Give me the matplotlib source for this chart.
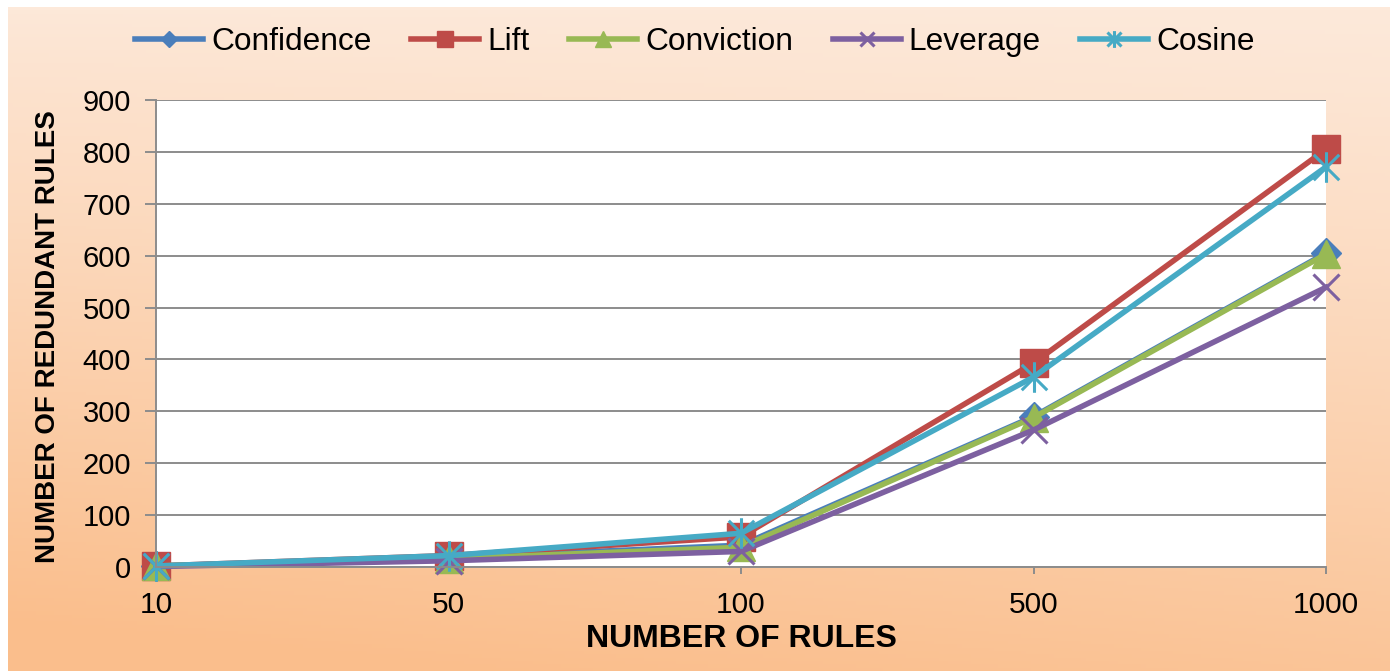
import numpy as np
import matplotlib
matplotlib.use("Agg")
import matplotlib.pyplot as plt
from matplotlib.path import Path

plt.rcParams["font.family"] = ["Liberation Sans", "DejaVu Sans"]

# ---- data -------------------------------------------------------------
rule_counts = ["10", "50", "100", "500", "1000"]
confidence = [2, 18, 42, 290, 605]
lift = [2, 22, 58, 393, 805]
conviction = [2, 16, 38, 288, 603]
leverage = [1, 12, 30, 264, 539]
cosine = [2, 22, 65, 366, 771]
y_ticks = [0, 100, 200, 300, 400, 500, 600, 700, 800, 900]

# asterisk-like marker: an X with a vertical bar through it
d = 0.5
star_path = Path(
    [(-d, -d), (d, d), (-d, d), (d, -d), (0, -0.6), (0, 0.6)],
    [Path.MOVETO, Path.LINETO, Path.MOVETO, Path.LINETO, Path.MOVETO, Path.LINETO],
)

series = [
    ("Confidence", confidence, "#4A7EBB", "D", 15),
    ("Lift", lift, "#BE4B48", "s", 20),
    ("Conviction", conviction, "#98B954", "^", 20),
    ("Leverage", leverage, "#7D60A0", "x", 19),
    ("Cosine", cosine, "#46AAC5", star_path, 22),
]

W, H = 1390, 671
fig = plt.figure(figsize=(W / 100, H / 100), dpi=100)
fig.patch.set_facecolor("white")

# ---- peach gradient backdrop -----------------------------------------
bg = fig.add_axes([8 / W, 0, 1 - 8 / W, 664 / H], zorder=-10)
ny, nx = 200, 300
yy, xx = np.mgrid[0:1:ny * 1j, 0:1:nx * 1j]
top = np.array([253, 233, 218]) / 255
bottom = np.array([250, 190, 140]) / 255
t = np.clip(0.85 * yy ** 1.1 + 0.22 * (1 - xx) * yy ** 0.5, 0, 1)
img = top[None, None, :] + (bottom - top)[None, None, :] * t[..., None]
bg.imshow(img, aspect="auto", extent=[0, 1, 0, 1], origin="upper")
bg.set_axis_off()

# ---- plot area --------------------------------------------------------
L, R, T, B = 156, 1326, 100, 567
ax = fig.add_axes([L / W, (H - B) / H, (R - L) / W, (B - T) / H])
ax.set_facecolor("white")
x = np.arange(len(rule_counts))

for name, vals, col, mk, ms in series:
    lw_mk = 2.2 if mk in ("x",) or isinstance(mk, Path) else 1.0
    ax.plot(x, vals, color=col, lw=4.0, marker=mk, markersize=ms,
            markerfacecolor=col, markeredgecolor=col, markeredgewidth=lw_mk,
            label=name, clip_on=False, solid_joinstyle="round")

ax.set_xlim(0, len(rule_counts) - 1)
ax.set_ylim(0, 900)
ax.set_yticks(y_ticks)
ax.set_xticks(x)
ax.set_xticklabels(rule_counts)
ax.grid(axis="y", color="#8C8C8C", lw=1.4)
ax.set_axisbelow(True)
for s in ("top", "right"):
    ax.spines[s].set_visible(False)
for s in ("left", "bottom"):
    ax.spines[s].set_color("#8C8C8C")
    ax.spines[s].set_linewidth(1.4)
ax.tick_params(axis="y", length=8, width=1.4, color="#8C8C8C",
               labelsize=21, pad=10)
ax.tick_params(axis="x", length=5, width=1.4, color="#8C8C8C",
               labelsize=21.5, pad=12)

fig.text(741 / W, 1 - 639 / H, "NUMBER OF RULES", ha="center", va="center",
         fontsize=23, fontweight="bold")
fig.text(48 / W, 1 - 337 / H, "NUMBER OF REDUNDANT RULES", ha="center",
         va="center", rotation=90, fontsize=20, fontweight="bold")

leg = fig.legend(loc="center", bbox_to_anchor=(695 / W, 1 - 42 / H),
                 ncol=5, frameon=False, fontsize=22.8, handlelength=2.15,
                 handletextpad=0.25, columnspacing=1.25, markerscale=0.55)

fig.savefig("out.png", dpi=100)
